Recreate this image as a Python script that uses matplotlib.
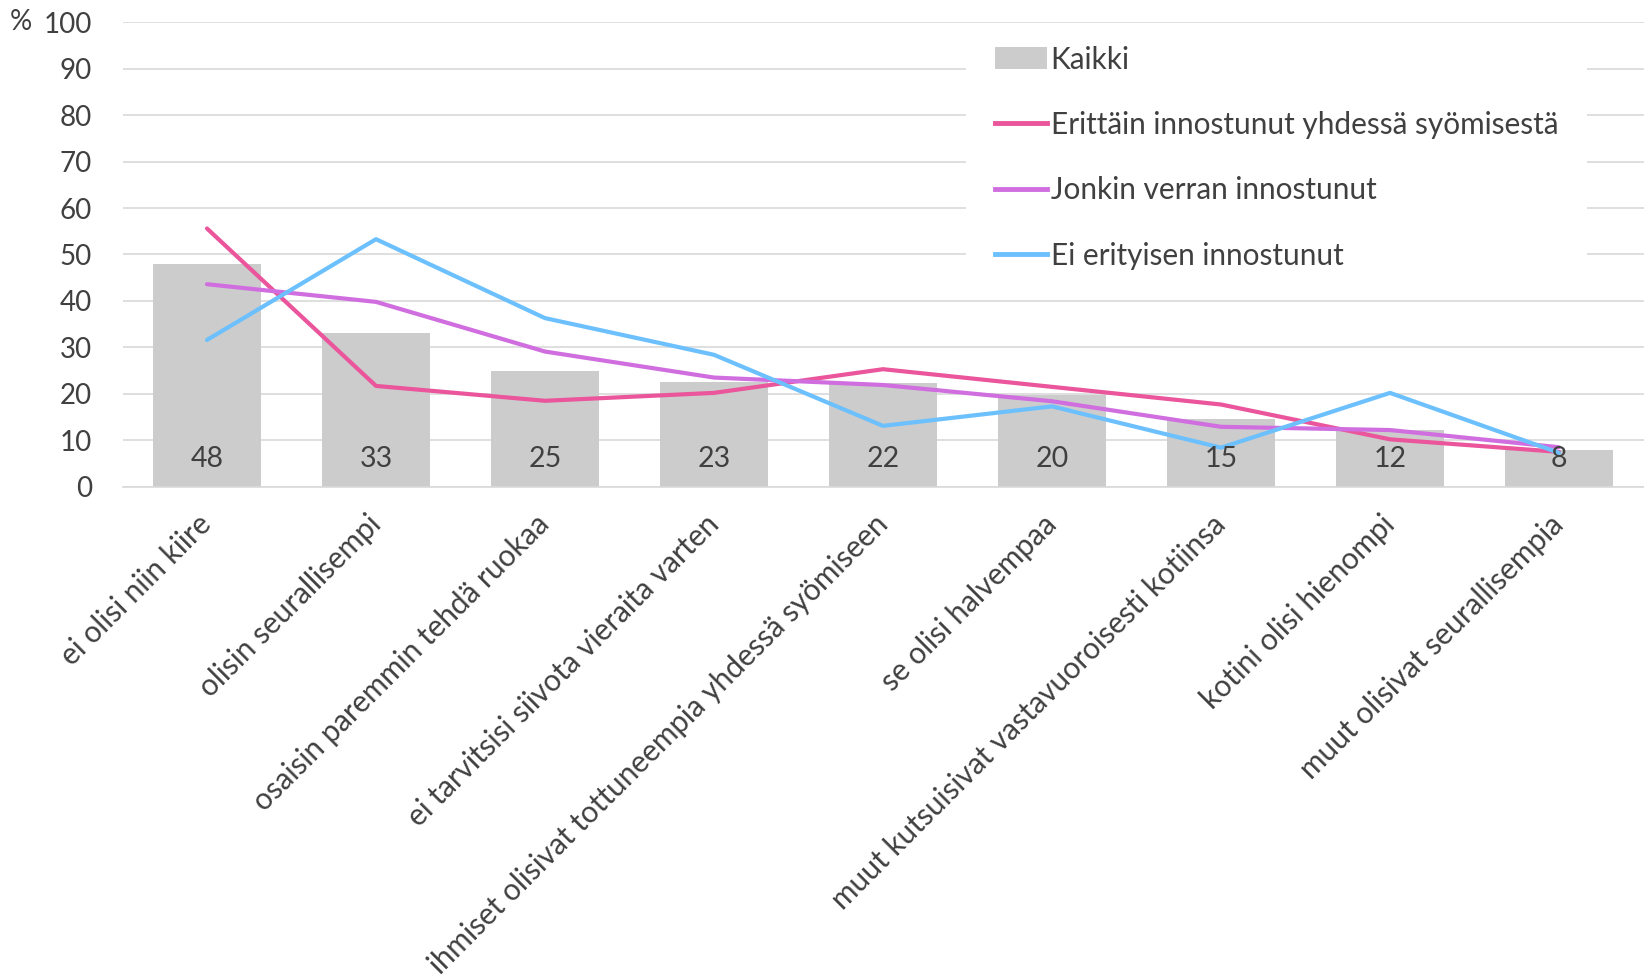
import matplotlib.pyplot as plt
from matplotlib.patches import Rectangle, Patch
from matplotlib.lines import Line2D
import numpy as np

plt.rcParams['font.family'] = ['Lato', 'DejaVu Sans']

categories = ["ei olisi niin kiire", "olisin seurallisempi", "osaisin paremmin tehdä ruokaa",
              "ei tarvitsisi siivota vieraita varten", "ihmiset olisivat tottuneempia yhdessä syömiseen",
              "se olisi halvempaa", "muut kutsuisivat vastavuoroisesti kotiinsa",
              "kotini olisi hienompi", "muut olisivat seurallisempia"]
kaikki = [48.0, 33.2, 24.9, 22.6, 22.4, 19.8, 14.6, 12.2, 8.0]
erittain = [55.6, 21.7, 18.5, 20.2, 25.3, 21.5, 17.7, 10.2, 7.5]
jonkin = [43.6, 39.8, 29.1, 23.5, 21.9, 18.4, 12.9, 12.2, 8.5]
ei_erit = [31.6, 53.3, 36.3, 28.4, 13.1, 17.3, 8.4, 20.2, 7.3]
series_names = ["Kaikki", "Erittäin innostunut yhdessä syömisestä",
                "Jonkin verran innostunut", "Ei erityisen innostunut"]

txt = '#404040'
grey = '#cccccc'
pink = '#ea559b'
purple = '#d06ee0'
blue = '#6cc0fd'

fig = plt.figure(figsize=(16.44, 9.80), dpi=100)
ax = fig.add_axes([122.5 / 1644, 1 - 486.7 / 980, 1521 / 1644, 464.4 / 980])

x = np.arange(len(categories))
ax.bar(x, kaikki, width=0.643, color=grey, zorder=1)
ax.plot(x, erittain, color=pink, lw=3.0, zorder=3, solid_capstyle='round')
ax.plot(x, jonkin, color=purple, lw=3.0, zorder=3, solid_capstyle='round')
ax.plot(x, ei_erit, color=blue, lw=3.0, zorder=3, solid_capstyle='round')

for xi, v in zip(x, kaikki):
    ax.text(xi, 6.0, f"{v:.0f}", ha='center', va='center', fontsize=20.5, color=txt, zorder=4)

ax.set_xlim(-0.5, len(categories) - 0.5)
ax.set_ylim(0, 100)
ax.set_yticks(range(0, 101, 10))
ax.tick_params(axis='y', length=0, pad=22, labelsize=20, labelcolor=txt)
ax.yaxis.grid(True, color='#d9d9d9', lw=1.2)
ax.set_axisbelow(True)
for s in ['left', 'right', 'top']:
    ax.spines[s].set_visible(False)
ax.spines['bottom'].set_color('#d9d9d9')
ax.spines['bottom'].set_linewidth(1.2)

ax.set_xticks(x)
ax.set_xticklabels(categories, rotation=45, ha='right', va='center', rotation_mode='anchor',
                   fontsize=21.4, color=txt)
ax.tick_params(axis='x', length=0, pad=24)

fig.text(21 / 1644, 1 - 22 / 980, "%", ha='center', va='center', fontsize=20, color=txt)

# white box behind legend hides gridlines
ax.add_patch(Rectangle((0.5546, 0.43), 0.9628 - 0.5546, 0.993 - 0.43, transform=ax.transAxes,
                       facecolor='white', edgecolor='none', zorder=0.8))

handles = [Patch(facecolor=grey, edgecolor='none'),
           Line2D([], [], color=pink, lw=3.5),
           Line2D([], [], color=purple, lw=3.5),
           Line2D([], [], color=blue, lw=3.5)]
leg = ax.legend(handles, series_names, loc='upper left', bbox_to_anchor=(0.5736, 0.950),
                frameon=False, fontsize=21.4, borderpad=0, borderaxespad=0,
                handlelength=1.75, handleheight=0.78, handletextpad=0.12, labelspacing=1.26)
for t in leg.get_texts():
    t.set_color(txt)

fig.savefig("out.png", dpi=100)
